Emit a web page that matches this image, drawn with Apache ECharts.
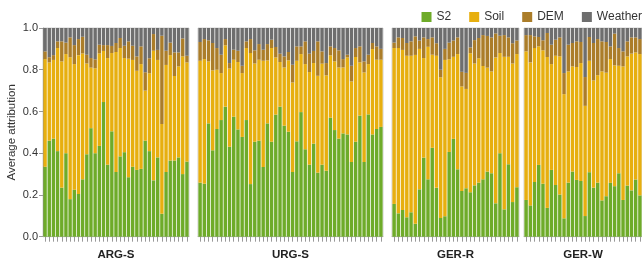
<!DOCTYPE html>
<html>
<head>
<meta charset="utf-8">
<script src="https://cdn.jsdelivr.net/npm/echarts@6/dist/echarts.min.js"></script>
<style>
  html, body { margin: 0; padding: 0; background: #fff; }
  #chart { width: 642px; height: 261px; }
</style>
</head>
<body>
<div id="chart"></div>
<script>
// panels and feature groups
const panels = ['ARG-S', 'URG-S', 'GER-R', 'GER-W'];
const features = ['S2', 'Soil', 'DEM', 'Weather'];
const yTicks = [0, 0.2, 0.4, 0.6, 0.8, 1.0];

// ARG-S (35 samples)
const argS2 = [0.335,0.46,0.47,0.41,0.235,0.40,0.18,0.225,0.205,0.275,0.395,0.52,0.40,0.435,0.645,0.345,0.505,0.31,0.385,0.405,0.285,0.335,0.32,0.325,0.46,0.41,0.27,0.38,0.11,0.31,0.365,0.365,0.38,0.30,0.36];
const argSoil = [0.516,0.375,0.377,0.494,0.605,0.475,0.68,0.602,0.665,0.603,0.435,0.29,0.407,0.443,0.245,0.511,0.375,0.575,0.519,0.451,0.568,0.512,0.475,0.502,0.24,0.373,0.621,0.467,0.43,0.513,0.505,0.405,0.436,0.564,0.475];
const argDem = [0.037,0.025,0.023,0.032,0.096,0.055,0.095,0.091,0.077,0.08,0.042,0.046,0.043,0.042,0.028,0.062,0.034,0.043,0.048,0.059,0.083,0.068,0.069,0.085,0.088,0.072,0.08,0.048,0.423,0.068,0.06,0.113,0.067,0.086,0.032];
const argWeather = [0.112,0.14,0.13,0.064,0.064,0.07,0.045,0.082,0.053,0.042,0.128,0.144,0.15,0.08,0.082,0.082,0.086,0.072,0.048,0.085,0.064,0.085,0.136,0.088,0.212,0.145,0.029,0.105,0.037,0.109,0.07,0.117,0.117,0.05,0.133];

// URG-S (44 samples)
const urgS2 = [0.259,0.254,0.543,0.414,0.516,0.559,0.623,0.431,0.575,0.514,0.478,0.559,0.252,0.455,0.46,0.334,0.543,0.455,0.585,0.623,0.532,0.503,0.31,0.457,0.597,0.419,0.345,0.446,0.307,0.345,0.316,0.57,0.511,0.47,0.495,0.49,0.358,0.455,0.58,0.358,0.586,0.49,0.516,0.526];
const urgSoil = [0.584,0.597,0.297,0.383,0.284,0.225,0.294,0.375,0.273,0.323,0.306,0.345,0.628,0.375,0.388,0.509,0.302,0.449,0.274,0.214,0.279,0.342,0.429,0.386,0.278,0.408,0.444,0.386,0.464,0.484,0.457,0.299,0.329,0.341,0.316,0.369,0.386,0.406,0.255,0.429,0.241,0.409,0.332,0.322];
const urgDem = [0.09,0.096,0.101,0.131,0.104,0.088,0.03,0.026,0.048,0.054,0.035,0.032,0.067,0.063,0.075,0.053,0.078,0.04,0.05,0.04,0.053,0.04,0.085,0.069,0.037,0.109,0.088,0.058,0.165,0.059,0.059,0.043,0.064,0.082,0.04,0.013,0.075,0.043,0.077,0.053,0.045,0.029,0.064,0.052];
const urgWeather = [0.067,0.053,0.059,0.072,0.096,0.128,0.053,0.168,0.104,0.109,0.181,0.064,0.053,0.107,0.077,0.104,0.077,0.056,0.091,0.123,0.136,0.115,0.176,0.088,0.088,0.064,0.123,0.11,0.064,0.112,0.168,0.088,0.096,0.107,0.149,0.128,0.181,0.096,0.088,0.16,0.128,0.072,0.088,0.10];

// GER-R (30 samples)
const gerRS2 = [0.157,0.112,0.128,0.093,0.117,0.062,0.227,0.379,0.275,0.426,0.234,0.09,0.098,0.406,0.469,0.323,0.219,0.232,0.213,0.246,0.259,0.275,0.312,0.304,0.16,0.40,0.131,0.347,0.166,0.237];
const gerRSoil = [0.747,0.792,0.767,0.774,0.75,0.809,0.673,0.477,0.635,0.446,0.633,0.674,0.749,0.444,0.393,0.552,0.501,0.476,0.666,0.584,0.596,0.543,0.498,0.488,0.699,0.48,0.731,0.515,0.664,0.638];
const gerRDem = [0.026,0.051,0.057,0.061,0.069,0.089,0.04,0.099,0.037,0.083,0.06,0.036,0.053,0.08,0.078,0.08,0.07,0.077,0.028,0.112,0.097,0.148,0.152,0.163,0.115,0.083,0.104,0.093,0.097,0.065];
const gerRWeather = [0.07,0.045,0.048,0.072,0.064,0.04,0.06,0.045,0.053,0.045,0.073,0.20,0.10,0.07,0.06,0.045,0.21,0.215,0.093,0.058,0.048,0.034,0.038,0.045,0.026,0.037,0.034,0.045,0.073,0.06];

// GER-W (28 samples)
const gerWS2 = [0.176,0.15,0.262,0.344,0.254,0.138,0.32,0.248,0.202,0.088,0.259,0.312,0.272,0.267,0.099,0.309,0.235,0.259,0.174,0.194,0.258,0.242,0.304,0.176,0.245,0.222,0.274,0.198];
const gerWSoil = [0.712,0.685,0.642,0.568,0.639,0.723,0.507,0.619,0.662,0.595,0.533,0.504,0.541,0.565,0.528,0.534,0.514,0.515,0.618,0.592,0.593,0.579,0.515,0.64,0.619,0.655,0.609,0.677];
const gerWDem = [0.078,0.131,0.056,0.045,0.048,0.115,0.093,0.077,0.091,0.101,0.128,0.112,0.123,0.101,0.138,0.114,0.179,0.173,0.144,0.147,0.061,0.152,0.085,0.072,0.072,0.078,0.072,0.072];
const gerWWeather = [0.034,0.034,0.04,0.043,0.059,0.024,0.08,0.056,0.045,0.216,0.08,0.072,0.064,0.067,0.235,0.043,0.072,0.053,0.064,0.067,0.088,0.027,0.096,0.112,0.064,0.045,0.045,0.053];

const panelData = [
  [argS2, argSoil, argDem, argWeather],
  [urgS2, urgSoil, urgDem, urgWeather],
  [gerRS2, gerRSoil, gerRDem, gerRWeather],
  [gerWS2, gerWSoil, gerWDem, gerWWeather]
];

const colors = ['#66a61e', '#e6ab02', '#a6761d', '#666666'];
const gridLeft = [43, 198, 392, 524];
const gridWidth = [146, 185, 127, 118];
const font = 'Liberation Sans, Arial, sans-serif';

let myChart = echarts.init(document.getElementById('chart'), null, {renderer: 'canvas'});

let grids = [], xAxes = [], yAxes = [], series = [];
for (let p = 0; p < panels.length; p++) {
  grids.push({
    left: gridLeft[p], width: gridWidth[p], top: 28, bottom: 24.3,
    outerBoundsMode: 'none', containLabel: false,
    show: true, borderColor: '#d0d0d0', borderWidth: 1
  });
  xAxes.push({
    type: 'category', gridIndex: p,
    data: panelData[p][0].map((v, i) => String(i + 1)),
    name: panels[p], nameLocation: 'middle', nameGap: 12,
    nameTextStyle: {fontFamily: font, fontSize: 11.5, fontWeight: 'bold', color: '#222'},
    axisLine: {lineStyle: {color: '#bbb'}},
    axisTick: {show: true, interval: 0, alignWithLabel: true, length: 5, lineStyle: {color: '#999'}},
    axisLabel: {show: false, interval: 0}
  });
  yAxes.push({
    type: 'value', gridIndex: p, min: 0, max: 1, interval: 0.2,
    name: p === 0 ? 'Average attribution' : '',
    nameLocation: 'middle', nameGap: 25,
    nameTextStyle: {fontFamily: font, fontSize: 11.5, color: '#333'},
    axisLine: {show: p === 0, lineStyle: {color: '#999'}},
    axisTick: {show: p === 0, length: 4, lineStyle: {color: '#999'}},
    axisLabel: {show: p === 0, fontFamily: font, fontSize: 11, color: '#333', margin: 5,
      formatter: v => v.toFixed(1)},
    splitLine: {show: false}
  });
  for (let f = 0; f < features.length; f++) {
    series.push({
      name: features[f], type: 'bar', stack: 'panel' + p,
      xAxisIndex: p, yAxisIndex: p,
      data: panelData[p][f],
      barCategoryGap: '18%',
      itemStyle: {color: colors[f], opacity: 0.95},
      emphasis: {disabled: true}
    });
  }
}

let option = {
  animation: false,
  color: colors,
  legend: {
    data: features, right: -5, top: 6,
    icon: 'rect', itemWidth: 10, itemHeight: 10, itemGap: 18,
    textStyle: {fontFamily: font, fontSize: 12, color: '#333'}
  },
  grid: grids,
  xAxis: xAxes,
  yAxis: yAxes,
  series: series
};
myChart.setOption(option);
</script>
</body>
</html>
